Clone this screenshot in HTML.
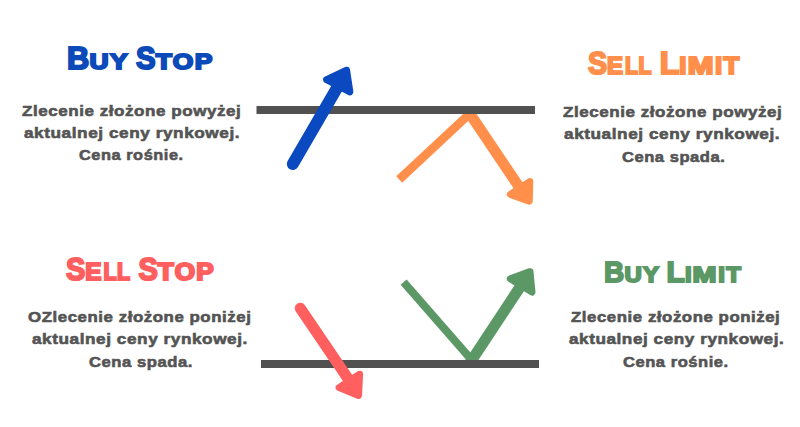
<!DOCTYPE html>
<html><head><meta charset="utf-8">
<style>
html,body{margin:0;padding:0;background:#fff;}
body{width:800px;height:427px;position:relative;overflow:hidden;font-family:"Liberation Sans",sans-serif;}
svg{position:absolute;left:0;top:0;}
.ttl{position:absolute;white-space:nowrap;font-weight:bold;line-height:1;transform-origin:0 0;font-size:31.2px;}
.ttl{-webkit-text-stroke:2px currentColor;word-spacing:-3px;letter-spacing:0.3px;}
.ttl .s{letter-spacing:1.2px;}
.sL,.sM,.sE{display:inline-block;transform-origin:0 0;}
.sL{transform:scaleX(0.82);margin-right:-2.75px;}
.sM{transform:scaleX(1.2);margin-right:4.07px;}
.sE{transform:scaleX(0.93);margin-right:-1.16px;}
.ttl .b{display:inline-block;transform-origin:0 0;}
.bB{transform:scaleX(0.86);margin-right:-3.2px;}
.bS{transform:scaleX(0.82);margin-right:-3.8px;}
.bL{transform:scaleX(0.92);margin-right:-1.55px;}
.ttl .s{font-size:23px;}
.tx{position:absolute;white-space:nowrap;font-weight:bold;font-size:15.5px;letter-spacing:0.5px;line-height:1;color:#545454;transform-origin:0 0;-webkit-text-stroke:0.6px currentColor;}
</style></head><body>
<svg width="800" height="427" viewBox="0 0 800 427">
<defs><clipPath id="co"><rect x="0" y="110" width="800" height="317"/></clipPath><clipPath id="cg"><rect x="0" y="0" width="800" height="364"/></clipPath></defs>
<g clip-path="url(#co)">
<line x1="399.20" y1="179.50" x2="475.69" y2="108.18" stroke="#ff8f4a" stroke-width="8.7" stroke-linecap="butt"/>
<line x1="465.37" y1="107.00" x2="518.85" y2="186.45" stroke="#ff8f4a" stroke-width="10.8" stroke-linecap="butt"/>
</g>
<polygon points="529.25,201.08 529.81,181.59 510.36,194.38" fill="#ff8f4a" stroke="#ff8f4a" stroke-width="7.0" stroke-linejoin="round"/>
<g clip-path="url(#cg)">
<line x1="403.60" y1="282.20" x2="477.07" y2="366.10" stroke="#5b9866" stroke-width="8" stroke-linecap="butt"/>
<line x1="467.39" y1="366.76" x2="519.95" y2="287.10" stroke="#5b9866" stroke-width="11" stroke-linecap="butt"/>
</g>
<polygon points="530.00,271.65 510.28,278.79 531.97,292.12" fill="#5b9866" stroke="#5b9866" stroke-width="7.0" stroke-linejoin="round"/>
<rect x="256.5" y="106" width="278.5" height="8" fill="#515151"/>
<rect x="261" y="360" width="278" height="8" fill="#515151"/>
<line x1="292.80" y1="164.00" x2="337.25" y2="87.45" stroke="#0b49c0" stroke-width="12" stroke-linecap="round"/>
<polygon points="346.59,70.19 326.60,79.66 349.86,91.81" fill="#0b49c0" stroke="#0b49c0" stroke-width="7.0" stroke-linejoin="round"/>
<line x1="300.20" y1="308.20" x2="348.38" y2="379.20" stroke="#ff5f5f" stroke-width="11" stroke-linecap="round"/>
<polygon points="358.55,395.44 359.59,374.14 339.09,387.62" fill="#ff5f5f" stroke="#ff5f5f" stroke-width="7.0" stroke-linejoin="round"/>
</svg>
<div class="ttl" style="left:67.01px;top:42.98px;color:#0b4ab8;transform-origin:0 26.42px;transform:scale(1.1483,0.98)"><span class="b bB">B</span><span class="s">UY</span> <span class="b bS">S</span><span class="s">TOP</span></div>
<div class="ttl" style="left:587.92px;top:48.18px;color:#ff8f4a;transform:scaleX(1.1195)"><span class="b bS">S</span><span class="s"><span class="sE">E</span><span class="sL">L</span><span class="sL">L</span></span> <span class="b bL">L</span><span class="s">I<span class="sM">M</span>IT</span></div>
<div class="ttl" style="left:65.80px;top:254.38px;color:#ff5f5f;transform:scaleX(1.1337)"><span class="b bS">S</span><span class="s"><span class="sE">E</span><span class="sL">L</span><span class="sL">L</span></span> <span class="b bS">S</span><span class="s">TOP</span></div>
<div class="ttl" style="left:603.71px;top:255.98px;color:#5b9866;transform-origin:0 26.42px;transform:scale(1.0410,0.95)"><span class="b bB">B</span><span class="s">UY</span> <span class="b bL">L</span><span class="s">I<span class="sM">M</span>IT</span></div>
<div class="tx" style="left:21.52px;top:103.08px;transform:scaleX(1.0976)">Zlecenie złożone powyżej</div>
<div class="tx" style="left:23.77px;top:125.28px;transform:scaleX(1.1101)">aktualnej ceny rynkowej.</div>
<div class="tx" style="left:79.10px;top:147.48px;transform:scaleX(1.0561)">Cena rośnie.</div>
<div class="tx" style="left:563.45px;top:104.18px;transform:scaleX(1.0980)">Zlecenie złożone powyżej</div>
<div class="tx" style="left:564.36px;top:126.38px;transform:scaleX(1.1106)">aktualnej ceny rynkowej.</div>
<div class="tx" style="left:621.51px;top:148.63px;transform:scaleX(1.0678)">Cena spada.</div>
<div class="tx" style="left:27.90px;top:309.08px;transform:scaleX(1.0875)">OZlecenie złożone poniżej</div>
<div class="tx" style="left:32.23px;top:331.33px;transform:scaleX(1.1092)">aktualnej ceny rynkowej.</div>
<div class="tx" style="left:88.51px;top:353.58px;transform:scaleX(1.0725)">Cena spada.</div>
<div class="tx" style="left:571.04px;top:309.08px;transform:scaleX(1.0854)">Zlecenie złożone poniżej</div>
<div class="tx" style="left:568.64px;top:331.33px;transform:scaleX(1.1062)">aktualnej ceny rynkowej.</div>
<div class="tx" style="left:622.89px;top:353.58px;transform:scaleX(1.0671)">Cena rośnie.</div>
</body></html>
